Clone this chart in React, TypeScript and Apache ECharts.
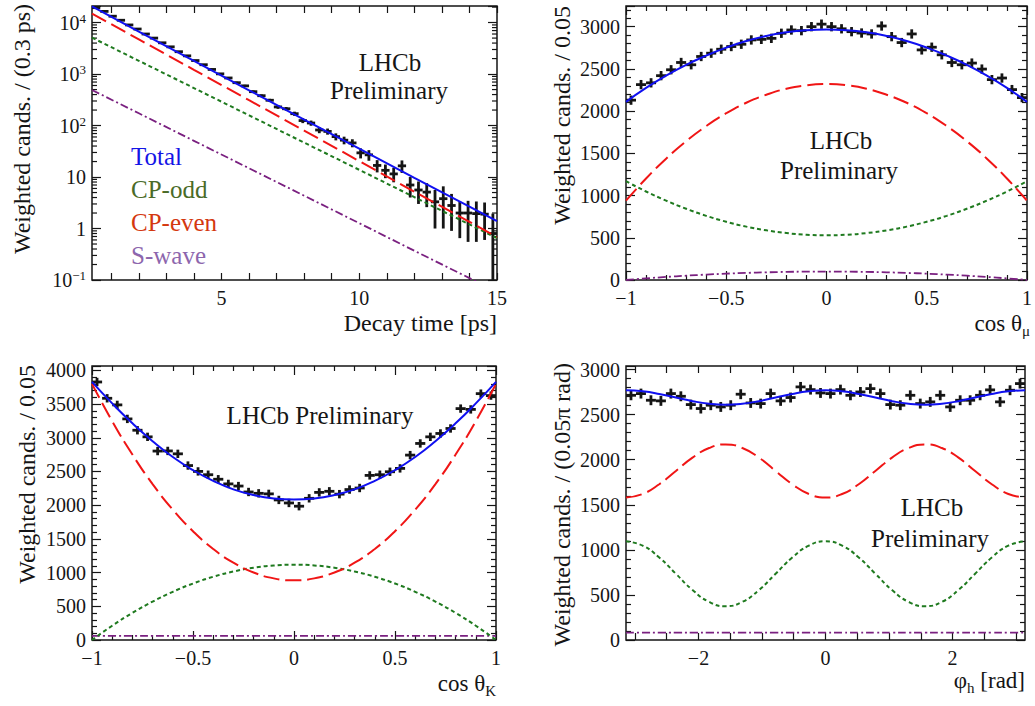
import React, { useEffect, useRef } from "react";
import * as echarts from "echarts";

const FONT = '"Liberation Serif", "DejaVu Serif", "Times New Roman", serif';
const INK = "#151515";
const COLOR_TOTAL = "#1010f0";
const COLOR_EVEN = "#f01515";
const COLOR_ODD = "#1f7a1f";
const COLOR_SWAVE = "#7a2080";

// ---------- Panel 1: decay time (log scale) ----------
const DECAY_X_MIN = 0.3;
const DECAY_X_MAX = 15;
const DECAY_BIN_WIDTH = 0.3;
const DECAY_Y_MIN = 0.1;
const DECAY_Y_MAX = 21000;
const DECAY_COUNTS = [
  19500, 16500, 13300, 11100, 9000, 7500, 6000, 5000, 4050, 3380,
  2720, 2260, 1830, 1520, 1230, 1010, 840, 680, 590, 455,
  380, 310, 230, 212, 170, 125, 112, 82, 77, 61,
  52, 46, 29.5, 27, 16.8, 13.5, 11.5, 16.5, 7.0, 5.6,
  5.1, 3.3, 3.8, 2.8, 2.0, 2.0, 1.95, 1.9, 0.8,
];
const DECAY_ERRORS = [
  170, 155, 140, 126, 114, 104, 93, 85, 76, 70,
  63, 57, 51, 47, 42, 38, 35, 31, 29, 26,
  23, 21, 19, 17, 16, 13.5, 13, 11, 10.5, 9.5,
  8.8, 8.2, 6.5, 6.3, 4.5, 4, 3.6, 4.5, 3, 2.6,
  2.5, 2.3, 2.8, 1.9, 1.35, 1.45, 1.4, 1.3, 1.15,
];
const DECAY_FIT_T = [0.3, 2, 4, 6, 8, 10, 12, 14, 15];
const DECAY_TOTAL = [20590, 6700, 1800, 484, 131, 35.5, 9.6, 2.66, 1.39];
const DECAY_CP_EVEN = [15000, 4720, 1210, 311, 80, 20.4, 5.2, 1.35, 0.68];
const DECAY_CP_ODD = [5100, 1810, 535, 158, 46.6, 13.8, 4.07, 1.2, 0.65];
const DECAY_SWAVE = [490, 173, 50.5, 14.8, 4.34, 1.27, 0.37, 0.109, 0.059];
const DECAY_X_TICKS = [1, 2, 3, 4, 5, 6, 7, 8, 9, 10, 11, 12, 13, 14, 15];
const DECAY_X_LABELS = [5, 10, 15];
const DECAY_Y_MINOR_TICKS = [
  0.2, 0.3, 0.4, 0.5, 0.6, 0.7, 0.8, 0.9,
  2, 3, 4, 5, 6, 7, 8, 9,
  20, 30, 40, 50, 60, 70, 80, 90,
  200, 300, 400, 500, 600, 700, 800, 900,
  2000, 3000, 4000, 5000, 6000, 7000, 8000, 9000,
  20000,
];

// ---------- Panel 2: cos(theta_mu) ----------
const COS_BIN_WIDTH = 0.05;
const COSMU_Y_MAX = 3245;
const COSMU_ERROR = 55;
const COSMU_COUNTS = [
  2130, 2314, 2335, 2420, 2490, 2576, 2549, 2647, 2686, 2733,
  2765, 2792, 2843, 2850, 2862, 2922, 2961, 2953, 3000, 3030,
  3000, 2975, 2941, 2925, 2914, 3008, 2882, 2812, 2914, 2725,
  2757, 2667, 2576, 2549, 2569, 2498, 2373, 2392, 2255, 2160,
];
const COS_FIT_X = [
  -1, -0.9, -0.8, -0.7, -0.6, -0.5, -0.4, -0.3, -0.2, -0.1, 0,
  0.1, 0.2, 0.3, 0.4, 0.5, 0.6, 0.7, 0.8, 0.9, 1,
];
const COSMU_TOTAL = [2110, 2275, 2420, 2548, 2657, 2752, 2830, 2890, 2933, 2958, 2966, 2958, 2933, 2890, 2830, 2752, 2657, 2548, 2420, 2275, 2110];
const COSMU_CP_EVEN = [940, 1202, 1437, 1644, 1823, 1975, 2099, 2194, 2265, 2306, 2320, 2306, 2265, 2194, 2099, 1975, 1823, 1644, 1437, 1202, 940];
const COSMU_CP_ODD = [1170, 1048, 940, 844, 760, 690, 632, 588, 556, 536, 530, 536, 556, 588, 632, 690, 760, 844, 940, 1048, 1170];
const COSMU_SWAVE = [0, 19, 36, 51, 64, 75, 84, 91, 96, 99, 100, 99, 96, 91, 84, 75, 64, 51, 36, 19, 0];

// ---------- Panel 3: cos(theta_K) ----------
const COSK_Y_MAX = 4065;
const COSK_ERROR = 62;
const COSK_COUNTS = [
  3828, 3586, 3488, 3280, 3112, 3014, 2803, 2805, 2762, 2588,
  2501, 2452, 2385, 2316, 2284, 2196, 2176, 2168, 2078, 2033,
  1985, 2102, 2190, 2206, 2164, 2232, 2255, 2442, 2452, 2496,
  2546, 2743, 2916, 3014, 3064, 3138, 3433, 3421, 3655, 3626,
];
const COSK_TOTAL = [3830, 3510, 3215, 2950, 2715, 2520, 2360, 2235, 2150, 2100, 2085, 2100, 2150, 2235, 2360, 2520, 2715, 2950, 3215, 3510, 3830];
const COSK_CP_EVEN = [3800, 3246, 2751, 2313, 1934, 1614, 1351, 1147, 1002, 914, 885, 914, 1002, 1147, 1351, 1614, 1934, 2313, 2751, 3246, 3800];
const COSK_CP_ODD = [0, 212, 402, 570, 715, 838, 938, 1016, 1072, 1106, 1117, 1106, 1072, 1016, 938, 838, 715, 570, 402, 212, 0];
const COSK_SWAVE = [60, 60, 60, 60, 60, 60, 60, 60, 60, 60, 60, 60, 60, 60, 60, 60, 60, 60, 60, 60, 60];

// ---------- Panel 4: phi_h ----------
const PHI_BIN_WIDTH = 0.05 * Math.PI;
const PHI_Y_MAX = 3040;
const PHI_ERROR = 55;
const PHI_COUNTS = [
  2715, 2734, 2660, 2653, 2734, 2704, 2612, 2568, 2605, 2586,
  2605, 2727, 2630, 2623, 2734, 2653, 2690, 2808, 2778, 2741,
  2734, 2778, 2715, 2752, 2789, 2734, 2612, 2605, 2715, 2623,
  2642, 2715, 2586, 2660, 2660, 2715, 2775, 2642, 2771, 2845,
];
const PHI_FIT_X = [
  -Math.PI, (-11 * Math.PI) / 12, (-10 * Math.PI) / 12, (-9 * Math.PI) / 12, (-8 * Math.PI) / 12,
  (-7 * Math.PI) / 12, (-6 * Math.PI) / 12, (-5 * Math.PI) / 12, (-4 * Math.PI) / 12, (-3 * Math.PI) / 12,
  (-2 * Math.PI) / 12, -Math.PI / 12, 0, Math.PI / 12, (2 * Math.PI) / 12, (3 * Math.PI) / 12,
  (4 * Math.PI) / 12, (5 * Math.PI) / 12, (6 * Math.PI) / 12, (7 * Math.PI) / 12, (8 * Math.PI) / 12,
  (9 * Math.PI) / 12, (10 * Math.PI) / 12, (11 * Math.PI) / 12, Math.PI,
];
const PHI_TOTAL = [2770, 2759, 2730, 2690, 2650, 2621, 2610, 2621, 2650, 2690, 2730, 2759, 2770, 2759, 2730, 2690, 2650, 2621, 2610, 2621, 2650, 2690, 2730, 2759, 2770];
const PHI_CP_EVEN = [1580, 1620, 1728, 1875, 2023, 2130, 2170, 2130, 2023, 1875, 1728, 1620, 1580, 1620, 1728, 1875, 2023, 2130, 2170, 2130, 2023, 1875, 1728, 1620, 1580];
const PHI_CP_ODD = [1095, 1047, 915, 735, 555, 423, 375, 423, 555, 735, 915, 1047, 1095, 1047, 915, 735, 555, 423, 375, 423, 555, 735, 915, 1047, 1095];
const PHI_SWAVE = [81, 81, 81, 81, 81, 81, 81, 81, 81, 81, 81, 81, 81, 81, 81, 81, 81, 81, 81, 81, 81, 81, 81, 81, 81];
const PHI_X_TICKS = [-3, -2.5, -2, -1.5, -1, -0.5, 0, 0.5, 1, 1.5, 2, 2.5, 3];
const PHI_X_LABELS = [-2, 0, 2];

// ---------- helpers ----------
const binCenters = (start: number, width: number, n: number) =>
  Array.from({ length: n }, (_, i) => start + (i + 0.5) * width);

const fmtSigned = (v: number) => (v === 0 ? "0" : String(v).replace("-", "\u2212"));
const fmtStep500 = (v: number) => (Math.abs(v % 500) < 1e-6 ? String(v) : "");
const fmtPow10 = (v: number) => {
  const l = Math.log10(v);
  const e = Math.round(l);
  if (Math.abs(l - e) > 1e-6) return "";
  if (e === 0) return "{b|1}";
  if (e === 1) return "{b|10}";
  return "{b|10}{sup|" + (e < 0 ? "\u2212" : "") + Math.abs(e) + "}";
};

const tickStyle = { color: INK, width: 1.2 };
const tick = (length: number, extra: any = {}) => ({ show: true, inside: true, length, lineStyle: tickStyle, ...extra });
const minor = { show: true, splitNumber: 5, length: 5, lineStyle: tickStyle };
const labelBase = { fontFamily: FONT, fontSize: 20, color: INK, lineHeight: 16 };

function crossSeries(gridIdx: number, centers: number[], counts: number[], errors: number[] | number, halfWidth: number, floor: number) {
  return {
    type: "custom",
    name: "Data",
    xAxisIndex: gridIdx * 2,
    yAxisIndex: gridIdx * 2,
    clip: true,
    silent: true,
    z: 3,
    data: centers.map((c, i) => [c, counts[i], Array.isArray(errors) ? errors[i] : errors]),
    encode: { x: 0, y: 1 },
    renderItem: (_p: any, api: any) => {
      const x = api.value(0);
      const y = api.value(1);
      const e = api.value(2);
      const a = api.coord([x - halfWidth, y]);
      const b = api.coord([x + halfWidth, y]);
      const lo = api.coord([x, Math.max(y - e, floor)]);
      const hi = api.coord([x, y + e]);
      const style = { stroke: INK, lineWidth: 2.8 };
      return {
        type: "group",
        children: [
          { type: "line", shape: { x1: a[0], y1: a[1], x2: b[0], y2: b[1] }, style },
          { type: "line", shape: { x1: lo[0], y1: lo[1], x2: hi[0], y2: hi[1] }, style },
        ],
      };
    },
  };
}

function fitSeries(name: string, gridIdx: number, xs: number[], ys: number[], color: string, dash: any, width: number, smooth: boolean) {
  return {
    type: "line",
    name,
    xAxisIndex: gridIdx * 2,
    yAxisIndex: gridIdx * 2,
    data: xs.map((x, i) => [x, ys[i]]),
    symbol: "none",
    showSymbol: false,
    smooth,
    silent: true,
    z: 4,
    lineStyle: { color, width, type: dash },
    itemStyle: { color },
  };
}

function panelFits(gridIdx: number, xs: number[], total: number[], even: number[], odd: number[], swave: number[], smooth: boolean) {
  return [
    fitSeries("S-wave", gridIdx, xs, swave, COLOR_SWAVE, [8, 3, 2, 3], 1.8, smooth),
    fitSeries("CP-odd", gridIdx, xs, odd, COLOR_ODD, [4, 3], 2, smooth),
    fitSeries("CP-even", gridIdx, xs, even, COLOR_EVEN, [16, 6], 2, smooth),
    fitSeries("Total", gridIdx, xs, total, COLOR_TOTAL, "solid", 2, smooth),
  ];
}

const noLine = { show: false, onZero: false };

function xPair(gridIdx: number, base: any) {
  const common = { type: "value", gridIndex: gridIdx, axisLine: noLine, splitLine: { show: false }, ...base };
  return [
    { ...common, position: "bottom" },
    { ...common, position: "top", axisLabel: { show: false } },
  ];
}
function yPair(gridIdx: number, base: any) {
  const common = { gridIndex: gridIdx, axisLine: noLine, splitLine: { show: false }, ...base };
  return [
    { ...common, position: "left" },
    { ...common, position: "right", axisLabel: { show: false } },
  ];
}

function text(x: number, y: number, t: string, size: number, extra: any = {}) {
  return {
    type: "text",
    x,
    y,
    silent: true,
    style: { text: t, fontFamily: FONT, fontSize: size, fill: INK, align: "center", verticalAlign: "middle", ...extra },
  };
}
function yTitle(x: number, top: number, t: string) {
  return {
    type: "text",
    x,
    y: top,
    rotation: Math.PI / 2,
    silent: true,
    style: { text: t, fontFamily: FONT, fontSize: 24, fill: INK, align: "right", verticalAlign: "middle" },
  };
}
const subRich = {
  m: { fontFamily: FONT, fontSize: 23, lineHeight: 30, fill: INK, color: INK },
  s: { fontFamily: FONT, fontSize: 15, lineHeight: 16, verticalAlign: "bottom", fill: INK, color: INK },
};

function buildOption() {
  const decayX = binCenters(DECAY_X_MIN, DECAY_BIN_WIDTH, DECAY_COUNTS.length);
  const cosX = binCenters(-1, COS_BIN_WIDTH, COSMU_COUNTS.length);
  const phiX = binCenters(-Math.PI, PHI_BIN_WIDTH, PHI_COUNTS.length);

  const grid = [
    { left: 92, top: 6, width: 405, height: 274 },
    { left: 626, top: 6, width: 404, height: 274 },
    { left: 92, top: 366, width: 404, height: 274 },
    { left: 626, top: 366, width: 399, height: 274 },
  ].map((g) => ({ ...g, show: true, borderColor: INK, borderWidth: 1.5, backgroundColor: "transparent" }));

  const xLabel = { ...labelBase, margin: 10 };
  const xAxis = [
    ...xPair(0, {
      min: DECAY_X_MIN,
      max: DECAY_X_MAX,
      axisTick: tick(7, { customValues: DECAY_X_TICKS }),
      axisLabel: { ...xLabel, customValues: DECAY_X_LABELS, formatter: (v: number) => String(v) },
    }),
    ...xPair(1, {
      min: -1,
      max: 1,
      interval: 0.5,
      axisTick: tick(9),
      minorTick: minor,
      axisLabel: { ...xLabel, formatter: fmtSigned },
    }),
    ...xPair(2, {
      min: -1,
      max: 1,
      interval: 0.5,
      axisTick: tick(9),
      minorTick: minor,
      axisLabel: { ...xLabel, formatter: fmtSigned },
    }),
    ...xPair(3, {
      min: -Math.PI,
      max: Math.PI,
      axisTick: tick(7, { customValues: PHI_X_TICKS }),
      axisLabel: { ...xLabel, customValues: PHI_X_LABELS, formatter: fmtSigned },
    }),
  ];

  const yLabel = { ...labelBase, margin: 6 };
  const yAxis = [
    ...yPair(0, {
      type: "log",
      logBase: 10,
      min: DECAY_Y_MIN,
      max: DECAY_Y_MAX,
      axisTick: tick(9),
      axisLabel: {
        ...yLabel,
        formatter: fmtPow10,
        rich: {
          b: { fontFamily: FONT, fontSize: 20, lineHeight: 22, color: INK },
          sup: { fontFamily: FONT, fontSize: 13, lineHeight: 12, verticalAlign: "top", color: INK },
        },
      },
    }),
    ...yPair(1, {
      type: "value",
      min: 0,
      max: COSMU_Y_MAX,
      interval: 500,
      axisTick: tick(9),
      minorTick: minor,
      axisLabel: { ...yLabel, formatter: fmtStep500 },
    }),
    ...yPair(2, {
      type: "value",
      min: 0,
      max: COSK_Y_MAX,
      interval: 500,
      axisTick: tick(9),
      minorTick: minor,
      axisLabel: { ...yLabel, formatter: fmtStep500 },
    }),
    ...yPair(3, {
      type: "value",
      min: 0,
      max: PHI_Y_MAX,
      interval: 500,
      axisTick: tick(9),
      minorTick: minor,
      axisLabel: { ...yLabel, formatter: fmtStep500 },
    }),
  ];

  const logMinorTicks = {
    type: "custom",
    name: "minor-ticks",
    xAxisIndex: 0,
    yAxisIndex: 0,
    silent: true,
    clip: true,
    z: 2,
    data: DECAY_Y_MINOR_TICKS.map((v) => [DECAY_X_MIN, v]),
    encode: { x: 0, y: 1 },
    renderItem: (_p: any, api: any) => {
      const v = api.value(1);
      const l = api.coord([DECAY_X_MIN, v]);
      const r = api.coord([DECAY_X_MAX, v]);
      const st = { stroke: INK, lineWidth: 1.2 };
      return {
        type: "group",
        children: [
          { type: "line", shape: { x1: l[0], y1: l[1], x2: l[0] + 5, y2: l[1] }, style: st },
          { type: "line", shape: { x1: r[0] - 5, y1: r[1], x2: r[0], y2: r[1] }, style: st },
        ],
      };
    },
  };

  const series = [
    logMinorTicks,
    crossSeries(0, decayX, DECAY_COUNTS, DECAY_ERRORS, DECAY_BIN_WIDTH / 2, 1e-3),
    ...panelFits(0, DECAY_FIT_T, DECAY_TOTAL, DECAY_CP_EVEN, DECAY_CP_ODD, DECAY_SWAVE, false),
    crossSeries(1, cosX, COSMU_COUNTS, COSMU_ERROR, COS_BIN_WIDTH / 2, -Infinity),
    ...panelFits(1, COS_FIT_X, COSMU_TOTAL, COSMU_CP_EVEN, COSMU_CP_ODD, COSMU_SWAVE, true),
    crossSeries(2, cosX, COSK_COUNTS, COSK_ERROR, COS_BIN_WIDTH / 2, -Infinity),
    ...panelFits(2, COS_FIT_X, COSK_TOTAL, COSK_CP_EVEN, COSK_CP_ODD, COSK_SWAVE, true),
    crossSeries(3, phiX, PHI_COUNTS, PHI_ERROR, PHI_BIN_WIDTH / 2, -Infinity),
    ...panelFits(3, PHI_FIT_X, PHI_TOTAL, PHI_CP_EVEN, PHI_CP_ODD, PHI_SWAVE, true),
  ];

  const graphic = [
    // LHCb labels
    text(390, 62, "LHCb", 25),
    text(389, 90, "Preliminary", 25),
    text(841, 140, "LHCb", 25),
    text(839, 170, "Preliminary", 25),
    text(320, 415, "LHCb Preliminary", 25),
    text(932, 507, "LHCb", 25),
    text(930, 538, "Preliminary", 25),
    // y titles
    yTitle(22, 4, "Weighted cands. / (0.3 ps)"),
    yTitle(562, 6, "Weighted cands. / 0.05"),
    yTitle(27, 365, "Weighted cands. / 0.05"),
    yTitle(562, 363, "Weighted cands. / (0.05\u03c0 rad)"),
    // x titles
    text(497, 323, "Decay time [ps]", 24, { align: "right" }),
    text(1030, 323, "{m|cos \u03b8}{s|\u03bc}", 23, { align: "right", rich: subRich }),
    text(496, 683, "{m|cos \u03b8}{s|K}", 23, { align: "right", rich: subRich }),
    text(1025, 680, "{m|\u03c6}{s|h}{m| [rad]}", 23, { align: "right", rich: subRich }),
  ];

  return {
    animation: false,
    backgroundColor: "#ffffff",
    grid,
    xAxis,
    yAxis,
    series,
    graphic,
    legend: {
      show: true,
      orient: "vertical",
      left: 126,
      top: 140,
      padding: 0,
      itemGap: 0,
      itemWidth: 0,
      itemHeight: 0,
      icon: "none",
      selectedMode: false,
      textStyle: { fontFamily: FONT, fontSize: 25, lineHeight: 33, padding: 0 },
      data: [
        { name: "Total", textStyle: { color: "#1414e6" } },
        { name: "CP-odd", textStyle: { color: "#4a6b28" } },
        { name: "CP-even", textStyle: { color: "#d4380f" } },
        { name: "S-wave", textStyle: { color: "#8d66ad" } },
      ],
    },
  };
}

export default function App() {
  const ref = useRef<HTMLDivElement>(null);
  useEffect(() => {
    if (!ref.current) return;
    const chart = echarts.init(ref.current, null, { renderer: "svg" });
    chart.setOption(buildOption() as any);
    return () => chart.dispose();
  }, []);
  return (
    <div
      ref={ref}
      style={{ position: "absolute", left: 0, top: 0, width: 1035, height: 706, background: "#fff" }}
    />
  );
}
